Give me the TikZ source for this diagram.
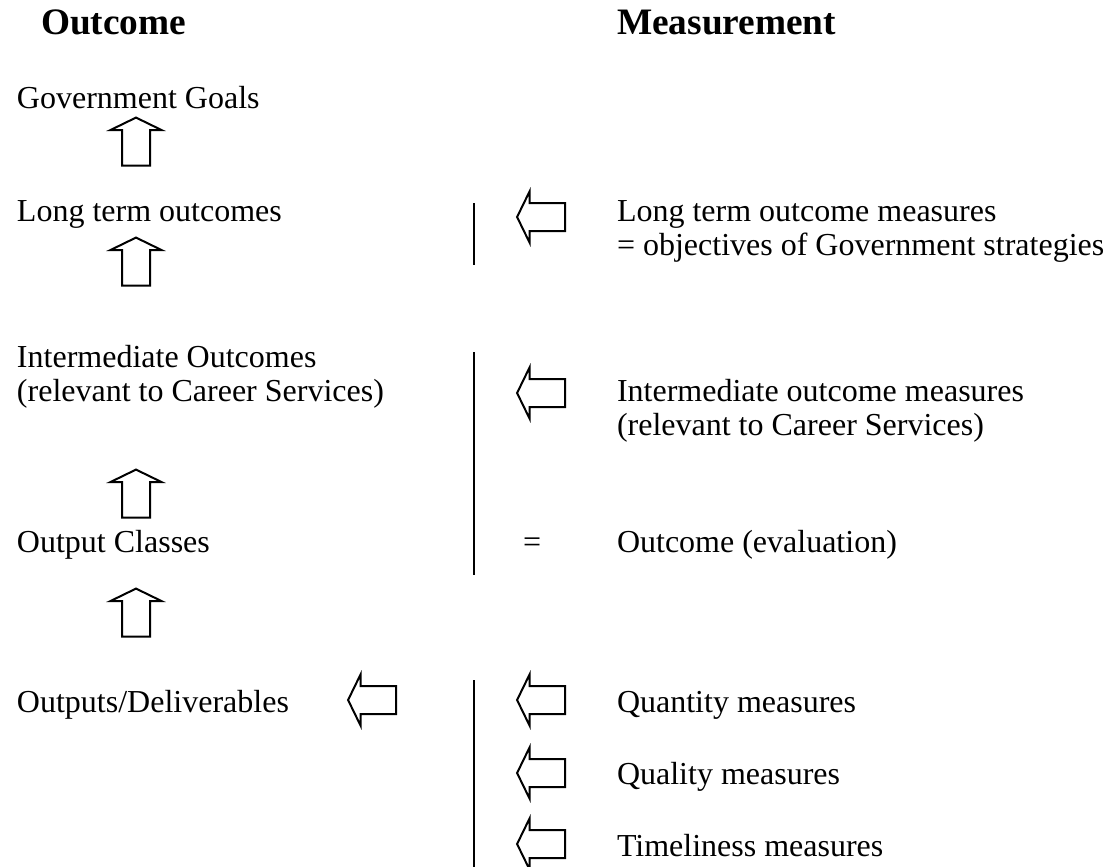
\documentclass[tikz,border=0pt]{standalone}
\usepackage{fontspec}
\setmainfont{Liberation Serif}
\usetikzlibrary{positioning, shapes.arrows}

\begin{document}
\begin{tikzpicture}[x=0.375pt,y=-0.375pt,line width=0.75pt,
  txt/.style={anchor=base west,inner sep=0pt,align=left,font=\fontsize{12}{12.75}\selectfont},
  heading/.style={anchor=base west,inner sep=0pt,font=\fontsize{14}{16}\selectfont\bfseries},
  blockarrow/.style={single arrow,draw,inner sep=4.875pt,minimum width=18.4pt,minimum height=18pt,
    single arrow head extend=4.3pt,single arrow tip angle=128},
  uparrow/.style={blockarrow,shape border rotate=90},
  leftarrow/.style={blockarrow,shape border rotate=180}]
\useasboundingbox (0,0) rectangle (1111,867);

% headings
\node[heading] (hout) at (40,35) {Outcome};
\node[heading] (hmeas) at (616,35) {Measurement};

% outcome column (two-line nodes sit on their last line)
\node[txt] (goals) at (16,108) {Government Goals};
\node[txt] (long) at (16,221) {Long term outcomes};
\node[txt] (inter) at (16,401) {Intermediate Outcomes\\(relevant to Career Services)};
\node[txt] (classes) at (16,552) {Output Classes};
\node[txt] (outputs) at (16,712) {Outputs/Deliverables};

\node[uparrow] (u1) at (136,145) {};
\node[uparrow] (u2) at (136,265) {};
\node[uparrow] (u3) at (136,497) {};
\node[uparrow] (u4) at (136,616) {};
\node[leftarrow] (lout) at (375.5,700) {};

% measurement column
\node[txt] (mlong) at (616,255) {Long term outcome measures\\= objectives of Government strategies};
\node[txt] (minter) at (616,435) {Intermediate outcome measures\\(relevant to Career Services)};
\node[txt] (eq) at (522,552) {=};
\node[txt] (meval) at (616,552) {Outcome (evaluation)};
\node[txt] (mquant) at (616,712) {Quantity measures};
\node[txt] (mqual) at (616,784) {Quality measures};
\node[txt] (mtime) at (616,856) {Timeliness measures};

\node[leftarrow] (a1) at (544.5,217) {};
\node[leftarrow] (a2) at (544.5,393) {};
\node[leftarrow] (a3) at (544.5,700) {};
\node[leftarrow] (a4) at (544.5,773) {};
\node[leftarrow] (a5) at (544.5,844) {};

% dividers
\coordinate (d1t) at (474,203);
\coordinate (d1b) at (474,265);
\coordinate (d2t) at (474,352);
\coordinate (d2b) at (474,575);
\coordinate (d3t) at (474,680);
\coordinate (d3b) at (474,867);
\draw (d1t) -- (d1b);
\draw (d2t) -- (d2b);
\draw (d3t) -- (d3b);
\end{tikzpicture}
\end{document}
